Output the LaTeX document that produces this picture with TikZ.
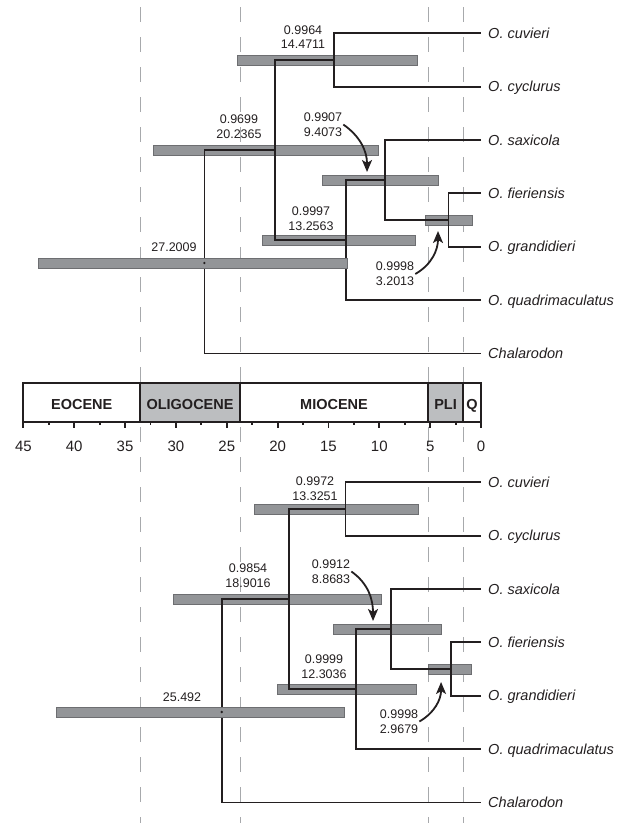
\documentclass[tikz,border=0pt]{standalone}
\usepackage{fontspec}
\setmainfont{Liberation Sans}
\usepackage{tikz}
\usetikzlibrary{arrows.meta,calc}

\definecolor{treeline}{HTML}{231F20}
\definecolor{hpdfill}{HTML}{939598}
\definecolor{hpdedge}{HTML}{6D6E71}
\definecolor{boundary}{HTML}{A7A9AC}
\definecolor{epochgray}{HTML}{BCBEC0}

\tikzset{
  branch/.style={
    draw=treeline,
    line width=1.8pt
  }
}
\tikzset{
  hpd/.style={
    draw=hpdedge,
    fill=hpdfill,
    line width=0.7pt
  }
}
\tikzset{
  boundary line/.style={
    draw=boundary,
    line width=0.9pt,
    dash pattern=on 15pt off 15pt
  }
}
\tikzset{
  taxon/.style={
    anchor=west,
    inner xsep=7pt,
    inner ysep=0pt,
    text height=10pt,
    text depth=0pt,
    text=treeline,
    font=\fontsize{14.5}{16}\selectfont\itshape
  }
}
\tikzset{
  support/.style={
    align=center,
    inner sep=1pt,
    text=treeline,
    font=\fontsize{12.5}{14.7}\selectfont
  }
}
\tikzset{
  pointer/.style={
    -{Stealth[length=12pt,width=10pt,inset=3pt]},
    draw=treeline,
    line width=1.8pt
  }
}
\tikzset{
  epoch cell/.style={
    draw=treeline,
    line width=2pt
  }
}
\tikzset{
  epoch label/.style={
    inner sep=0pt,
    text height=10.4pt,
    text depth=0pt,
    text=treeline,
    font=\fontsize{14.5}{16}\selectfont\bfseries
  }
}
\tikzset{
  age tick/.style={
    draw=treeline,
    line width=1.8pt
  }
}
\tikzset{
  age label/.style={
    inner sep=0pt,
    text=treeline,
    font=\fontsize{15}{16}\selectfont
  }
}
\newcommand{\hpdbar}[3]{%
  \draw[hpd] (#1,#3-5) rectangle (#2,#3+5);%
}

\begin{document}
\begin{tikzpicture}[x={(-10.17pt,0pt)},y={(0pt,-1pt)}]

    \useasboundingbox (47.30,0) rectangle (-14.26,823);

    % ------------------------------------------------------------
    % Epoch boundaries
    % ------------------------------------------------------------

    \foreach \bound in {33.53,23.70,5.21,1.77}
      \draw[boundary line] (\bound,7) -- (\bound,823);

    % ------------------------------------------------------------
    % Upper tree
    % ------------------------------------------------------------

    \node[taxon] (cuvA) at (0,33.3)   {O. cuvieri};
    \node[taxon] (cycA) at (0,86.65)  {O. cyclurus};
    \node[taxon] (saxA) at (0,140.0)  {O. saxicola};
    \node[taxon] (fieA) at (0,193.35) {O. fieriensis};
    \node[taxon] (graA) at (0,246.7)  {O. grandidieri};
    \node[taxon] (quaA) at (0,300.05) {O. quadrimaculatus};
    \node[taxon] (chaA) at (0,353.4)  {Chalarodon};

    \coordinate (A1) at (14.4711,60);
    \coordinate (A2) at (20.2365,150);
    \coordinate (A3) at (9.4073,180);
    \coordinate (A4) at (3.2013,220);
    \coordinate (A5) at (13.2563,240);
    \coordinate (A0) at (27.2009,263);

    \hpdbar{23.99}{6.29}{60}
    \hpdbar{32.25}{10.13}{150}
    \hpdbar{15.63}{4.23}{180}
    \hpdbar{5.51}{0.88}{220}
    \hpdbar{21.53}{6.49}{240}

    \draw[branch] (A1) |- (cuvA.west);
    \draw[branch] (A1) |- (cycA.west);
    \draw[branch] (A4) |- (fieA.west);
    \draw[branch] (A4) |- (graA.west);
    \draw[branch] (A3) |- (saxA.west);
    \draw[branch] (A3) |- (A4);
    \draw[branch] (A5) |- (A3);
    \draw[branch] (A5) |- (quaA.west);
    \draw[branch] (A2) |- (A1);
    \draw[branch] (A2) |- (A5);
    \draw[branch] (A0) |- (A2);
    \draw[branch] (A0) |- (chaA.west);

    \hpdbar{43.56}{13.18}{263}
    \fill[treeline] (A0) circle (1.3pt);

    \node[support] (sA1) at (17.50,37)    {0.9964\\14.4711};
    \node[support] (sA2) at (23.80,127)   {0.9699\\20.2365};
    \node[support] (sA3) at (15.54,124.5) {0.9907\\9.4073};
    \node[support] (sA5) at (16.72,219)   {0.9997\\13.2563};
    \node[support] (sA4) at (8.46,274)    {0.9998\\3.2013};
    \node[support] (sA0) at (30.19,247)   {27.2009};

    \coordinate (pA3) at (11.21,172);
    \coordinate (pA4) at (4.23,231);
    \draw[pointer] (sA3.east) to[out=-35,in=90] (pA3);
    \draw[pointer] (sA4.east) to[out=30,in=-90] (pA4);

    % ------------------------------------------------------------
    % Time scale
    % ------------------------------------------------------------

    \foreach \older/\younger/\ep/\tone in
      {45/33.53/EOCENE/white,33.53/23.70/OLIGOCENE/epochgray,
       23.70/5.21/MIOCENE/white,5.21/1.77/PLI/epochgray,1.77/0/Q/white}
    {
      \draw[epoch cell,fill=\tone] (\older,383) rectangle (\younger,422);
      \node[epoch label] (\ep) at ({(\older+\younger)/2},404) {\ep};
    }

    \foreach \age in {0,5,...,45}
    {
      \draw[age tick] (\age,422) -- (\age,427.5);
      \node[age label] (age\age) at (\age,446) {\age};
    }
    \foreach \age in {2.5,7.5,...,42.5}
      \draw[age tick] (\age,422) -- (\age,425);

    % ------------------------------------------------------------
    % Lower tree
    % ------------------------------------------------------------

    \node[taxon] (cuvB) at (0,482.3)  {O. cuvieri};
    \node[taxon] (cycB) at (0,535.65) {O. cyclurus};
    \node[taxon] (saxB) at (0,589.0)  {O. saxicola};
    \node[taxon] (fieB) at (0,642.35) {O. fieriensis};
    \node[taxon] (graB) at (0,695.7)  {O. grandidieri};
    \node[taxon] (quaB) at (0,749.05) {O. quadrimaculatus};
    \node[taxon] (chaB) at (0,802.4)  {Chalarodon};

    \coordinate (B1) at (13.3251,509);
    \coordinate (B2) at (18.9016,599);
    \coordinate (B3) at (8.8683,629);
    \coordinate (B4) at (2.9679,669);
    \coordinate (B5) at (12.3036,689);
    \coordinate (B0) at (25.492,712);

    \hpdbar{22.32}{6.19}{509}
    \hpdbar{30.29}{9.83}{599}
    \hpdbar{14.55}{3.93}{629}
    \hpdbar{5.21}{0.98}{669}
    \hpdbar{20.06}{6.39}{689}

    \draw[branch] (B1) |- (cuvB.west);
    \draw[branch] (B1) |- (cycB.west);
    \draw[branch] (B4) |- (fieB.west);
    \draw[branch] (B4) |- (graB.west);
    \draw[branch] (B3) |- (saxB.west);
    \draw[branch] (B3) |- (B4);
    \draw[branch] (B5) |- (B3);
    \draw[branch] (B5) |- (quaB.west);
    \draw[branch] (B2) |- (B1);
    \draw[branch] (B2) |- (B5);
    \draw[branch] (B0) |- (B2);
    \draw[branch] (B0) |- (chaB.west);

    \hpdbar{41.79}{13.47}{712}
    \fill[treeline] (B0) circle (1.3pt);

    \node[support] (sB1) at (16.32,488.5) {0.9972\\13.3251};
    \node[support] (sB2) at (22.91,575.5) {0.9854\\18.9016};
    \node[support] (sB3) at (14.75,571.5) {0.9912\\8.8683};
    \node[support] (sB5) at (15.44,666.5) {0.9999\\12.3036};
    \node[support] (sB4) at (8.06,721.5)  {0.9998\\2.9679};
    \node[support] (sB0) at (29.40,697)   {25.492};

    \coordinate (pB3) at (10.62,621);
    \coordinate (pB4) at (3.93,682);
    \draw[pointer] (sB3.east) to[out=-35,in=90] (pB3);
    \draw[pointer] (sB4.east) to[out=30,in=-90] (pB4);

\end{tikzpicture}
\end{document}
